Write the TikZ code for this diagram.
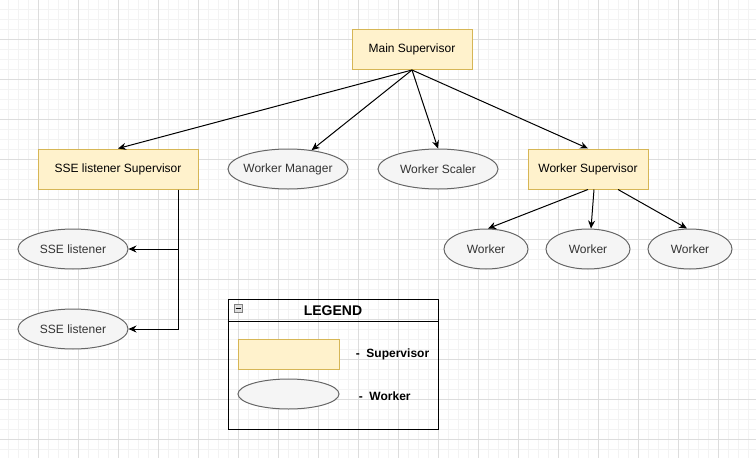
\documentclass[tikz,border=0pt]{standalone}
\usepackage{fontspec}
\setmainfont{Liberation Sans}
\usetikzlibrary{shapes.geometric,arrows.meta}
\definecolor{supfill}{HTML}{FFF2CC}
\definecolor{supline}{HTML}{D6B656}
\definecolor{workfill}{HTML}{F5F5F5}
\definecolor{workline}{HTML}{666666}
\definecolor{worktext}{HTML}{333333}
\definecolor{gridmajor}{HTML}{DDDDDD}
\definecolor{gridminor}{HTML}{F3F3F3}

\begin{document}
\begin{tikzpicture}[x=1pt, y=-1pt, line width=1pt,
        every node/.style={font=\fontsize{12}{14}\selectfont},
        sup/.style={draw=supline, fill=supfill, minimum width=120pt, minimum height=40pt, inner sep=0pt},
        work/.style={ellipse, draw=workline, fill=workfill, text=worktext, minimum width=120pt, minimum height=40pt, inner xsep=-12pt, inner ysep=0pt},
        link/.style={-{Stealth[length=8pt,width=7pt]}}]
        \useasboundingbox (0,0) rectangle (756,458);
        % background grid
        \foreach \x in {8,18,...,748} \draw[gridminor] (\x,0) -- (\x,458);
        \foreach \y in {9,19,...,449} \draw[gridminor] (0,\y) -- (756,\y);
        \foreach \x in {38,78,...,718} \draw[gridmajor] (\x,0) -- (\x,458);
        \foreach \y in {39,79,...,439} \draw[gridmajor] (0,\y) -- (756,\y);

        % supervision tree
        \node[sup] (main) at (412,49.5) {Main Supervisor};
        \node[sup, minimum width=160pt] (ssesup) at (118,169) {SSE listener Supervisor};
        \node[work] (wman) at (288,169) {Worker Manager};
        \node[work] (wsc) at (438,169) {Worker Scaler};
        \node[sup] (wsup) at (588,169) {Worker Supervisor};
        \foreach \n/\x in {1/486,2/588,3/690}
            \node[work, minimum width=84pt] (w\n) at (\x,249) {Worker};
        \foreach \n/\y in {1/249,2/329}
            \node[work, minimum width=110pt] (sse\n) at (73,\y) {SSE listener};

        \draw[link] (main.south) -- (ssesup.north);
        \draw[link] (main.south) -- (wman);
        \draw[link] (main.south) -- (wsc.north);
        \draw[link] (main.south) -- (wsup.north);
        \draw[link] (wsup.south) -- ([xshift=2pt]w1.north);
        \draw[link] ([xshift=6pt]wsup.south) -- ([xshift=3pt]w2.north);
        \draw[link] ([xshift=30pt]wsup.south) -- ([xshift=-3pt]w3.north);
        \foreach \n in {1,2}
            \draw[link] ([xshift=-20pt]ssesup.south east) |- (sse\n);

        % legend
        \node[draw, minimum width=210pt, minimum height=130pt, inner sep=0pt] (legend) at (333,364) {};
        \draw (legend.north west) ++(0,23) coordinate (legsplit) -- (legsplit -| legend.east);
        \draw[draw=gray, fill=gray!25, line width=0.8pt] (234,304) rectangle (242,312);
        \draw[line width=0.8pt] (235.5,308) -- (240.5,308);
        \node[font=\fontsize{14}{16}\selectfont\bfseries] (legtitle) at (333,311) {LEGEND};
        \node[sup, minimum width=101pt, minimum height=30pt] (keysup) at (288.5,354) {};
        \node[work, minimum width=101pt, minimum height=30pt] (keywork) at (288.5,394) {};
        \node[anchor=west, font=\fontsize{12}{14}\selectfont\bfseries] (keysuptext) at (352,354) {-\ \ Supervisor};
        \node[anchor=west, font=\fontsize{12}{14}\selectfont\bfseries] (keyworktext) at (355,396) {-\ \ Worker};
    \end{tikzpicture}
\end{document}
